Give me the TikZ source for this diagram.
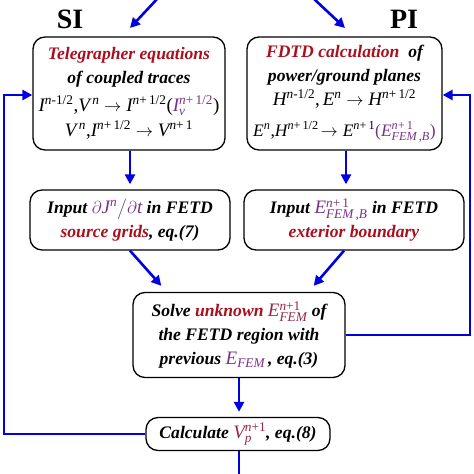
\documentclass[tikz,border=0pt]{standalone}
\usepackage{amsmath}
\usepackage{fontspec}
\setmainfont{Liberation Serif}
\usetikzlibrary{arrows.meta,calc}
\definecolor{fblue}{RGB}{0,0,225}
\definecolor{dred}{RGB}{170,15,30}
\definecolor{purp}{RGB}{120,50,135}
\definecolor{mau}{RGB}{150,40,70}
\newcommand\T[1]{\text{\normalfont\itshape #1}}
\newcommand\M[1]{{\fontsize{19}{19}\selectfont$#1$}}
\newcommand\MS[1]{{\fontsize{17.5}{17.5}\selectfont$#1$}}
\begin{document}
\begin{tikzpicture}[x=1pt,y=-1pt,
  box/.style={draw=black,line width=1.3pt,rounded corners=12pt,align=center,inner sep=0pt,
    font=\fontsize{17.6}{24}\selectfont\bfseries\itshape},
  arr/.style={draw=fblue,line width=2.6pt,-{Triangle[length=10pt,width=10pt]}},
  plain/.style={draw=fblue,line width=2.6pt},
  lbl/.style={font=\fontsize{28}{28}\selectfont\bfseries}]
\useasboundingbox (0,0) rectangle (474,474);
\node[lbl] (si) at (70,19) {SI};
\node[lbl] (pi) at (404,19) {PI};
\node[box,minimum width=192pt,minimum height=113pt] (b1) at (129,93.5)
 {{\color{dred}Telegrapher equations}\\
  of coupled traces\\[4pt]
  \M{\T{I}^{\T{n\upshape-1/2}}\T{\upshape,}\T{V}^{\,\T{n}}\rightarrow\T{I}^{\T{n\upshape+\,1/2}}\T{\upshape(}\textcolor{purp}{\T{I}^{\T{n\upshape+\,1/2}}_{\T{v}}}\T{\upshape)}}\\[1pt]
  \M{\T{V}^{\,\T{n}}\T{\upshape,}\T{I}^{\T{n\upshape+\,1/2}}\rightarrow\T{V}^{\T{n\upshape+\,1}}}};
\node[box,minimum width=195pt,minimum height=113pt] (b2) at (344.5,93.5)
 {{\color{dred}FDTD calculation}\ \ of\\
  power/ground planes\\
  \M{\T{H}^{\T{n\upshape-1/2}}\T{\upshape,}\,\T{E}^{\T{n}}\rightarrow\T{H}^{\T{n\upshape+\,1/2}}}\\[7pt]
  \MS{\T{E}^{\T{n}}\T{\upshape,}\T{H}^{\T{n\upshape+\,1/2}}\!\rightarrow\T{E}^{\T{n\upshape+\,1}}\textcolor{purp}{\T{\upshape(}\T{E}^{\T{n\upshape+\,1}}_{\T{FEM\upshape\,,\itshape B}}\T{\upshape)}}}};
\node[box,minimum width=200pt,minimum height=60pt] (b3) at (130,220)
 {Input \textcolor{purp}{\M{\partial\T{J}^{\T{n}}\big/\partial\T{t}}} in FETD\\
  {\color{dred}source grids}, eq.(7)};
\node[box,minimum width=220pt,minimum height=60pt] (b4) at (354,220)
 {Input \textcolor{purp}{\M{\T{E}^{\T{n\upshape+\,1}}_{\T{FEM\upshape\,,\itshape B}}}} in FETD\\
  {\color{dred}exterior boundary}};
\node[box,minimum width=212pt,minimum height=85pt] (b5) at (239,335)
 {Solve {\color{dred}unknown} \textcolor{mau}{\M{\T{E}^{\T{n\upshape+1}}_{\T{FEM}}}} of\\
  the FETD region with\\
  previous \textcolor{purp}{\M{\T{E}_{\T{FEM}}}}\,, eq.(3)};
\node[box,minimum width=184pt,minimum height=33pt] (b6) at (238,434)
 {Calculate \textcolor{mau}{\M{\T{V}^{\T{n\upshape+1}}_{\T{p}}}}, eq.(8)};
\coordinate (t1) at (158,-2);
\coordinate (t1e) at (130,28);
\coordinate (t2) at (313,-2);
\coordinate (t2e) at (345,28);
\coordinate (L) at (4,95);
\coordinate (R) at (470,95);
\coordinate (bot) at (239,476);
\draw[arr] (t1) -- (t1e);
\draw[arr] (t2) -- (t2e);
\draw[arr,shorten >=5pt] (b1.south -| 130,0) -- (b3.north -| 130,0);
\draw[arr,shorten >=5pt] (b2.south -| 346,0) -- (b4.north -| 346,0);
\draw[arr] (b3.south) -- ([xshift=29pt,yshift=6pt]b5.north west);
\draw[arr] ([xshift=-10pt]b4.south) -- ([xshift=-32pt,yshift=6pt]b5.north east);
\draw[arr,shorten >=5pt] (b5.south) -- (b5.south |- b6.north);
\draw[plain] (b6.south -| b5.south) -- (bot);
\draw[arr] (b6.west) -| (L) -- (L -| b1.west);
\draw[arr] (b5.east) -| (R) -- (R -| b2.east);
\end{tikzpicture}
\end{document}
